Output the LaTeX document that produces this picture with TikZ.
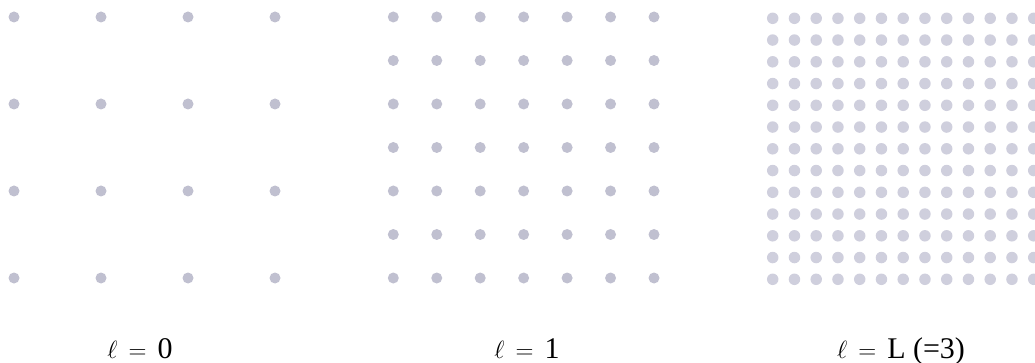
\documentclass[tikz,border=0pt]{standalone}
\usepackage{fontspec}
\setmainfont{Liberation Serif}
\usepackage{xcolor}
\usetikzlibrary{positioning}
\definecolor{dotgrey}{RGB}{192,192,208}
\definecolor{dotlight}{RGB}{207,207,221}

\begin{document}
\begin{tikzpicture}[
    x=1pt, y=-1pt,
    dot/.style={circle, fill=dotgrey, inner sep=0pt, minimum size=11pt},
    finedot/.style={circle, fill=dotlight, inner sep=0pt, minimum size=11.5pt},
    level/.style={anchor=base, font=\fontsize{30}{36}\selectfont}
]
    \useasboundingbox (0,0) rectangle (1035,363);
    % coarsest grid, 4 x 4
    \foreach \i in {0,...,3}
        \foreach \j in {0,...,3}
            \node [dot] (a-\i-\j) at (14+87*\i, 17+87*\j) {};
    % middle grid, 7 x 7
    \foreach \i in {0,...,6}
        \foreach \j in {0,...,6}
            \node [dot] (b-\i-\j) at (393.3+43.45*\i, 17+43.5*\j) {};
    % finest grid, 13 x 13
    \foreach \i in {0,...,12}
        \foreach \j in {0,...,12}
            \node [finedot] (c-\i-\j) at (772.7+21.75*\i, 18.3+21.75*\j) {};
    \node [level] (lvl0) at (140,358) {$\ell\,=\,{}$0};
    \node [level] (lvl1) at (527,358) {$\ell\,=\,{}$1};
    \node [level] (lvlL) at (901,358) {$\ell\,=\,{}$L (=3)};
\end{tikzpicture}
\end{document}
